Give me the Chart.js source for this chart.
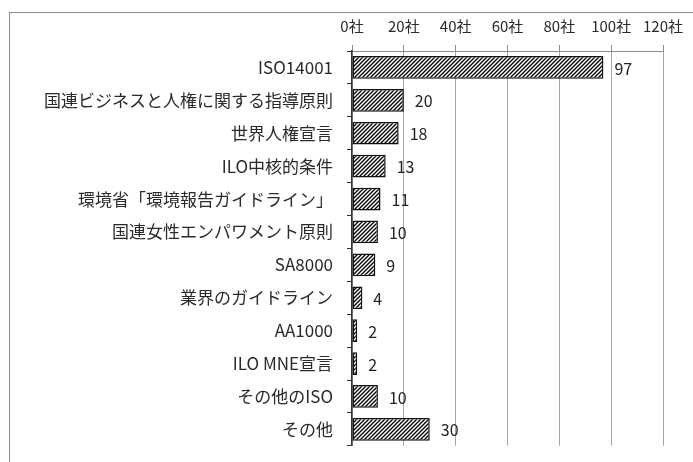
<!DOCTYPE html>
<html>
<head>
<meta charset="utf-8">
<script src="https://cdn.jsdelivr.net/npm/chart.js@4"></script>
<style>
    html, body { margin: 0; padding: 0; overflow: hidden; background: #fff; }
    #frame { position: absolute; left: 9px; top: 12px; width: 800px; height: 600px; border: 1px solid #8c8c8c; }
    #chart { position: absolute; left: 0; top: 0; }
</style>
</head>
<body>
<div id="frame"></div>
<canvas id="chart" width="693" height="470"></canvas>
<script>
const categories = [
    'ISO14001',
    '国連ビジネスと人権に関する指導原則',
    '世界人権宣言',
    'ILO中核的条件',
    '環境省「環境報告ガイドライン」',
    '国連女性エンパワメント原則',
    'SA8000',
    '業界のガイドライン',
    'AA1000',
    'ILO MNE宣言',
    'その他のISO',
    'その他'
];
const companies = [97, 20, 18, 13, 11, 10, 9, 4, 2, 2, 10, 30];
const tickUnit = '社';

// 斜線パターン
function makeHatch() {
    const c = document.createElement('canvas');
    c.width = 4;
    c.height = 4;
    const g = c.getContext('2d');
    g.fillStyle = '#fff';
    g.fillRect(0, 0, 4, 4);
    g.strokeStyle = '#000';
    g.lineWidth = 1.3;
    g.beginPath();
    g.moveTo(-1, 5); g.lineTo(5, -1);
    g.moveTo(-1, 1); g.lineTo(1, -1);
    g.moveTo(3, 5); g.lineTo(5, 3);
    g.stroke();
    return g.createPattern(c, 'repeat');
}

// 値ラベル
const valueLabels = {
    id: 'valueLabels',
    afterDatasetsDraw(chart) {
        const ctx = chart.ctx;
        const meta = chart.getDatasetMeta(0);
        ctx.save();
        ctx.font = '16px "Noto Sans CJK JP", sans-serif';
        ctx.fillStyle = '#222';
        ctx.textAlign = 'left';
        ctx.textBaseline = 'middle';
        meta.data.forEach((bar, i) => {
            ctx.fillText(String(companies[i]), bar.x + 11, bar.y + 1);
        });
        ctx.restore();
    }
};

Chart.defaults.font.family = '"Noto Sans CJK JP", sans-serif';
Chart.defaults.color = '#2a2a2a';

const ctx = document.getElementById('chart').getContext('2d');
new Chart(ctx, {
    type: 'bar',
    data: {
        labels: categories,
        datasets: [{
            data: companies,
            backgroundColor: makeHatch(),
            borderColor: '#111',
            borderWidth: 1.5,
            borderSkipped: false,
            categoryPercentage: 1,
            barPercentage: 0.69
        }]
    },
    options: {
        indexAxis: 'y',
        responsive: false,
        animation: false,
        devicePixelRatio: 1,
        layout: { padding: { left: 0, right: 29, top: 0, bottom: 2 } },
        plugins: {
            legend: { display: false },
            tooltip: { enabled: false }
        },
        scales: {
            x: {
                position: 'top',
                min: 0,
                max: 120,
                ticks: {
                    stepSize: 20,
                    padding: 10,
                    font: { size: 15 },
                    callback: (v) => v + tickUnit
                },
                grid: { color: '#a6a6a6', tickColor: '#8c8c8c', tickLength: 6 },
                border: { color: '#8c8c8c' },
                afterFit: (scale) => { scale.height = 51; }
            },
            y: {
                ticks: { padding: 14, font: { size: 17 }, autoSkip: false },
                grid: { drawOnChartArea: false, tickLength: 5, tickColor: '#333', offset: true },
                border: { color: '#333', width: 1.5 },
                afterFit: (scale) => { scale.width = 352; }
            }
        }
    },
    plugins: [valueLabels]
});
</script>
</body>
</html>
